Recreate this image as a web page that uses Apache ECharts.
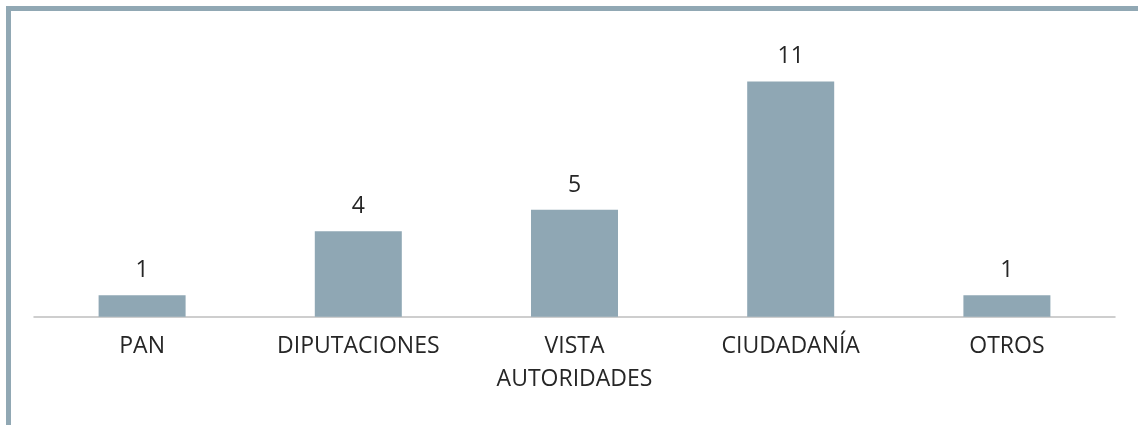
<!DOCTYPE html>
<html><head><meta charset="utf-8">
<script src="https://cdn.jsdelivr.net/npm/echarts@6/dist/echarts.min.js"></script>
<style>html,body{margin:0;padding:0;background:#fff}#c{width:1138px;height:425px}</style>
</head><body><div id="c"></div>
<script>
const categories = ['PAN', 'DIPUTACIONES', 'VISTA\nAUTORIDADES', 'CIUDADANÍA', 'OTROS'];
const values = [1, 4, 5, 11, 1];
const chart = echarts.init(document.getElementById('c'));
chart.setOption({
  animation: false,
  graphic: [
    { type: 'rect', shape: { x: 6, y: 6, width: 1132, height: 5 }, style: { fill: '#91a8b4' } },
    { type: 'rect', shape: { x: 6, y: 6, width: 5, height: 419 }, style: { fill: '#91a8b4' } }
  ],
  grid: { left: 34, right: 23, top: 60, bottom: 108.3 },
  xAxis: {
    type: 'category', data: categories,
    axisLine: { lineStyle: { color: '#bfbfbf', width: 1.5 } },
    axisTick: { show: false },
    axisLabel: { color: '#262626', fontFamily: 'Open Sans', fontSize: 23, margin: 13, lineHeight: 33 }
  },
  yAxis: { type: 'value', min: 0, max: 12, show: false, splitLine: { show: false } },
  series: [{
    type: 'bar', data: values, barWidth: 87,
    itemStyle: { color: '#8fa7b4' },
    label: { show: true, position: 'top', distance: 13, color: '#262626', fontFamily: 'Open Sans', fontSize: 23 }
  }]
});
</script></body></html>
